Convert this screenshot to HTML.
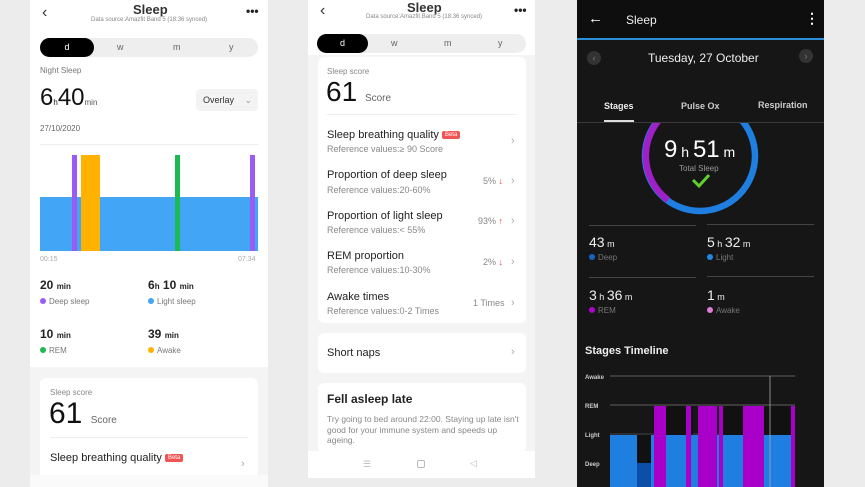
<!DOCTYPE html>
<html><head><meta charset="utf-8"><style>
*{margin:0;padding:0;box-sizing:border-box}
body{width:865px;height:487px;overflow:hidden;background:#ececec;font-family:"Liberation Sans",sans-serif;position:relative}
.a{position:absolute;white-space:nowrap}
.p1{left:30px;top:0;width:238px;height:487px;background:#fff}
.p2{left:308px;top:0;width:227px;height:478px;background:#f4f4f4}
.p3{left:577px;top:0;width:247px;height:487px;background:#161616}
.card{background:#fff;border-radius:6px}
.t{color:#222;font-size:11px}
.s{color:#888;font-size:9px}
.dot{display:inline-block;width:6px;height:6px;border-radius:50%;margin-right:3px;vertical-align:0}
.chev{color:#aaa;font-size:11px}
</style></head><body>
<!-- Phone 1 -->
<div class="a p1"></div>
<div class="a" style="left:42px;top:4px;font-size:16px;color:#333">‹</div>
<div class="a" style="left:133px;top:2px;font-size:13px;font-weight:bold;color:#333">Sleep</div>
<div class="a" style="left:91px;top:17px;font-size:6px;color:#888">Data source:Amazfit Band 5 (18:36 synced)</div>
<div class="a" style="left:246px;top:4px;font-size:12px;font-weight:bold;color:#222">•••</div>
<div class="a" style="left:40px;top:38px;width:218px;height:19px;background:#eee;border-radius:10px"></div>
<div class="a" style="left:40px;top:38px;width:54px;height:19px;background:#000;border-radius:10px;color:#fff;font-size:9px;text-align:center;line-height:19px">d</div>
<div class="a" style="left:117px;top:42px;font-size:9px;color:#666">w</div>
<div class="a" style="left:173px;top:42px;font-size:9px;color:#666">m</div>
<div class="a" style="left:229px;top:42px;font-size:9px;color:#666">y</div>
<div class="a" style="left:40px;top:66px;font-size:8px;color:#777">Night Sleep</div>
<div class="a" style="left:40px;top:84px;font-size:24px;color:#111">6<span style="font-size:8px">h</span>40<span style="font-size:8px;color:#555">min</span></div>
<div class="a" style="left:196px;top:89px;width:62px;height:22px;background:#f3f3f3;border-radius:4px;font-size:9px;color:#333;line-height:22px;padding-left:7px">Overlay <span style="color:#999;margin-left:8px">⌄</span></div>
<div class="a" style="left:40px;top:124px;font-size:8px;color:#666">27/10/2020</div>
<div class="a" style="left:40px;top:144px;width:218px;height:1px;background:#eee"></div>
<div class="a" style="left:40px;top:197px;width:218px;height:54px;background:#42a5f5"></div>
<div class="a" style="left:72px;top:155px;width:5px;height:96px;background:#9b5cf6"></div>
<div class="a" style="left:81px;top:155px;width:19px;height:96px;background:#ffb300"></div>
<div class="a" style="left:175px;top:155px;width:5px;height:96px;background:#1db954"></div>
<div class="a" style="left:250px;top:155px;width:5px;height:96px;background:#9b5cf6"></div>
<div class="a" style="left:40px;top:256px;font-size:7px;color:#aaa">00:15</div>
<div class="a" style="left:238px;top:256px;font-size:7px;color:#aaa">07:34</div>
<div class="a" style="left:40px;top:278px;font-size:12px;font-weight:bold;color:#222">20 <span style="font-size:8px">min</span></div>
<div class="a" style="left:40px;top:297px;font-size:8px;color:#777"><span class="dot" style="background:#9b5cf6"></span>Deep sleep</div>
<div class="a" style="left:148px;top:278px;font-size:12px;font-weight:bold;color:#222">6<span style="font-size:8px">h</span> 10 <span style="font-size:8px">min</span></div>
<div class="a" style="left:148px;top:297px;font-size:8px;color:#777"><span class="dot" style="background:#42a5f5"></span>Light sleep</div>
<div class="a" style="left:40px;top:327px;font-size:12px;font-weight:bold;color:#222">10 <span style="font-size:8px">min</span></div>
<div class="a" style="left:40px;top:346px;font-size:8px;color:#777"><span class="dot" style="background:#1db954"></span>REM</div>
<div class="a" style="left:148px;top:327px;font-size:12px;font-weight:bold;color:#222">39 <span style="font-size:8px">min</span></div>
<div class="a" style="left:148px;top:346px;font-size:8px;color:#777"><span class="dot" style="background:#ffb300"></span>Awake</div>
<div class="a" style="left:30px;top:367px;width:238px;height:120px;background:#f4f4f4"></div>
<div class="a card" style="left:40px;top:378px;width:218px;height:109px"></div>
<div class="a" style="left:50px;top:388px;font-size:8px;color:#888">Sleep score</div>
<div class="a" style="left:49px;top:397px;font-size:30px;color:#111;font-family:'Liberation Sans Narrow','Liberation Sans',sans-serif">61 <span style="font-size:10px;color:#666">Score</span></div>
<div class="a" style="left:50px;top:437px;width:198px;height:1px;background:#eee"></div>
<div class="a" style="left:50px;top:452px;font-size:11px;color:#222">Sleep breathing quality <span style="background:#f15252;color:#fff;font-size:6px;padding:1px 3px;border-radius:2px;vertical-align:2px">Beta</span></div>
<div class="a chev" style="left:241px;top:458px">›</div>
<div class="a" style="left:30px;top:475px;width:238px;height:12px;background:#fafafa"></div>
<!-- Phone 2 -->
<div class="a p2"></div>
<div class="a" style="left:308px;top:0;width:227px;height:55px;background:#fff"></div>
<div class="a" style="left:320px;top:2px;font-size:16px;color:#333">‹</div>
<div class="a" style="left:407px;top:0px;font-size:13px;font-weight:bold;color:#333">Sleep</div>
<div class="a" style="left:366px;top:14px;font-size:6px;color:#888">Data source:Amazfit Band 5 (18:36 synced)</div>
<div class="a" style="left:514px;top:3px;font-size:12px;font-weight:bold;color:#222">•••</div>
<div class="a" style="left:317px;top:34px;width:209px;height:19px;background:#eee;border-radius:10px"></div>
<div class="a" style="left:317px;top:34px;width:51px;height:19px;background:#000;border-radius:10px;color:#fff;font-size:9px;text-align:center;line-height:19px">d</div>
<div class="a" style="left:391px;top:38px;font-size:9px;color:#666">w</div>
<div class="a" style="left:444px;top:38px;font-size:9px;color:#666">m</div>
<div class="a" style="left:498px;top:38px;font-size:9px;color:#666">y</div>
<div class="a card" style="left:318px;top:57px;width:208px;height:266px"></div>
<div class="a" style="left:327px;top:67px;font-size:8px;color:#888">Sleep score</div>
<div class="a" style="left:326px;top:76px;font-size:28px;color:#111;font-family:'Liberation Sans Narrow','Liberation Sans',sans-serif">61 <span style="font-size:10px;color:#666">Score</span></div>
<div class="a" style="left:327px;top:114px;width:190px;height:1px;background:#eee"></div>
<div class="a t" style="left:327px;top:129px">Sleep breathing quality <span style="background:#f15252;color:#fff;font-size:6px;padding:1px 3px;border-radius:2px;vertical-align:2px">Beta</span></div>
<div class="a s" style="left:327px;top:144px">Reference values:≥ 90 Score</div>
<div class="a chev" style="left:511px;top:135px">›</div>
<div class="a t" style="left:327px;top:169px">Proportion of deep sleep</div>
<div class="a s" style="left:327px;top:185px">Reference values:20-60%</div>
<div class="a" style="left:483px;top:176px;font-size:9px;color:#888">5% <span style="color:#f04040">↓</span></div>
<div class="a chev" style="left:511px;top:175px">›</div>
<div class="a t" style="left:327px;top:210px">Proportion of light sleep</div>
<div class="a s" style="left:327px;top:225px">Reference values:&lt; 55%</div>
<div class="a" style="left:478px;top:216px;font-size:9px;color:#888">93% <span style="color:#f04040">↑</span></div>
<div class="a chev" style="left:511px;top:215px">›</div>
<div class="a t" style="left:327px;top:250px">REM proportion</div>
<div class="a s" style="left:327px;top:265px">Reference values:10-30%</div>
<div class="a" style="left:483px;top:257px;font-size:9px;color:#888">2% <span style="color:#f04040">↓</span></div>
<div class="a chev" style="left:511px;top:256px">›</div>
<div class="a t" style="left:327px;top:291px">Awake times</div>
<div class="a s" style="left:327px;top:306px">Reference values:0-2 Times</div>
<div class="a" style="left:473px;top:298px;font-size:9px;color:#888">1 Times</div>
<div class="a chev" style="left:511px;top:297px">›</div>
<div class="a card" style="left:318px;top:333px;width:208px;height:40px"></div>
<div class="a t" style="left:327px;top:347px">Short naps</div>
<div class="a chev" style="left:511px;top:346px">›</div>
<div class="a card" style="left:318px;top:383px;width:208px;height:70px"></div>
<div class="a" style="left:327px;top:392px;font-size:12px;font-weight:bold;color:#222">Fell asleep late</div>
<div class="a" style="left:327px;top:414px;font-size:8.5px;color:#888;white-space:normal;width:195px;line-height:10.5px">Try going to bed around 22:00. Staying up late isn't good for your immune system and speeds up ageing.</div>
<div class="a" style="left:308px;top:451px;width:227px;height:27px;background:#fff"></div>
<div class="a" style="left:363px;top:459px;font-size:9px;color:#bbb">☰</div>
<div class="a" style="left:417px;top:460px;width:8px;height:8px;border:1px solid #bbb;border-radius:2px"></div>
<div class="a" style="left:470px;top:458px;font-size:9px;color:#bbb">◁</div>
<!-- Phone 3 -->
<div class="a p3"></div>
<div class="a" style="left:577px;top:0;width:247px;height:38px;background:#0e0e0e"></div>
<div class="a" style="left:577px;top:38px;width:247px;height:2px;background:#2a8fd8"></div>
<div class="a" style="left:588px;top:10px;font-size:15px;color:#fff">←</div>
<div class="a" style="left:626px;top:13px;font-size:12px;color:#eee">Sleep</div>
<div class="a" style="left:805px;top:10px;font-size:14px;color:#fff;font-weight:bold">⋮</div>
<div class="a" style="left:587px;top:51px;width:14px;height:14px;border-radius:50%;background:#333;color:#777;font-size:9px;text-align:center;line-height:14px">‹</div>
<div class="a" style="left:799px;top:49px;width:14px;height:14px;border-radius:50%;background:#333;color:#777;font-size:9px;text-align:center;line-height:14px">›</div>
<div class="a" style="left:648px;top:51px;font-size:12px;color:#eee">Tuesday, 27 October</div>
<div class="a" style="left:604px;top:101px;font-size:9px;color:#eee;font-weight:bold">Stages</div>
<div class="a" style="left:681px;top:101px;font-size:9px;color:#ccc;font-weight:bold">Pulse Ox</div>
<div class="a" style="left:758px;top:100px;font-size:9px;color:#ccc;font-weight:bold">Respiration</div>
<div class="a" style="left:604px;top:120px;width:30px;height:2px;background:#ddd"></div>
<svg class="a" style="left:577px;top:123px" width="247" height="100">
<circle cx="123" cy="33" r="55" fill="none" stroke="#1e7fe0" stroke-width="6.5"/>
<path d="M95,-14 A55,55 0 0 0 91,77" fill="none" stroke="#a020c8" stroke-width="6.5"/>
<path d="M116,57 l6,6 l10,-11" fill="none" stroke="#5ed12a" stroke-width="3"/>
</svg>
<div class="a" style="left:577px;top:122px;width:247px;height:1px;background:#3a3a3a"></div>
<div class="a" style="left:664px;top:136px;font-size:24px;color:#fff">9<span style="font-size:14px"> h </span>51<span style="font-size:14px"> m</span></div>
<div class="a" style="left:679px;top:164px;font-size:8px;color:#999">Total Sleep</div>
<div class="a" style="left:589px;top:225px;width:107px;height:1px;background:#444"></div>
<div class="a" style="left:707px;top:224px;width:107px;height:1px;background:#444"></div>
<div class="a" style="left:589px;top:277px;width:107px;height:1px;background:#444"></div>
<div class="a" style="left:707px;top:276px;width:107px;height:1px;background:#444"></div>
<div class="a" style="left:589px;top:234px;font-size:14px;color:#eee">43<span style="font-size:9px"> m</span></div>
<div class="a" style="left:589px;top:253px;font-size:8px;color:#777"><span class="dot" style="background:#1565c0"></span>Deep</div>
<div class="a" style="left:707px;top:234px;font-size:14px;color:#eee">5<span style="font-size:9px"> h </span>32<span style="font-size:9px"> m</span></div>
<div class="a" style="left:707px;top:253px;font-size:8px;color:#777"><span class="dot" style="background:#1e88e5"></span>Light</div>
<div class="a" style="left:589px;top:287px;font-size:14px;color:#eee">3<span style="font-size:9px"> h </span>36<span style="font-size:9px"> m</span></div>
<div class="a" style="left:589px;top:306px;font-size:8px;color:#777"><span class="dot" style="background:#b000d0"></span>REM</div>
<div class="a" style="left:707px;top:287px;font-size:14px;color:#eee">1<span style="font-size:9px"> m</span></div>
<div class="a" style="left:707px;top:306px;font-size:8px;color:#777"><span class="dot" style="background:#e07ad8"></span>Awake</div>
<div class="a" style="left:585px;top:345px;font-size:11px;color:#eee;font-weight:bold">Stages Timeline</div>
<svg class="a" style="left:577px;top:370px" width="247" height="117">
<g font-family="Liberation Sans" font-size="6" fill="#ccc" font-weight="bold">
<text x="8" y="9">Awake</text><text x="8" y="38">REM</text><text x="8" y="67">Light</text><text x="8" y="96">Deep</text></g>
<line x1="33" y1="6" x2="218" y2="6" stroke="#777" stroke-width="0.8"/>
<line x1="33" y1="35" x2="218" y2="35" stroke="#777" stroke-width="0.8"/>
<line x1="33" y1="64" x2="218" y2="64" stroke="#555" stroke-width="0.8"/>
<rect x="33" y="65" width="185" height="52" fill="#1e7fe0"/>
<rect x="60" y="65" width="14" height="28" fill="#111"/>
<rect x="60" y="93" width="14" height="24" fill="#0d4fa8"/>
<rect x="77" y="36" width="12" height="81" fill="#a800c8"/>
<rect x="89" y="36" width="27" height="29" fill="#111"/>
<rect x="109" y="36" width="5" height="81" fill="#a800c8"/>
<rect x="121" y="36" width="19" height="81" fill="#a800c8"/>
<rect x="142" y="36" width="4" height="81" fill="#a800c8"/>
<rect x="146" y="36" width="27" height="29" fill="#111"/>
<rect x="166" y="36" width="21" height="81" fill="#a800c8"/>
<rect x="187" y="36" width="27" height="29" fill="#111"/>
<rect x="214" y="36" width="4" height="81" fill="#a800c8"/>
<line x1="193" y1="6" x2="193" y2="117" stroke="#aaa" stroke-width="0.8"/>
</svg>
</body></html>
